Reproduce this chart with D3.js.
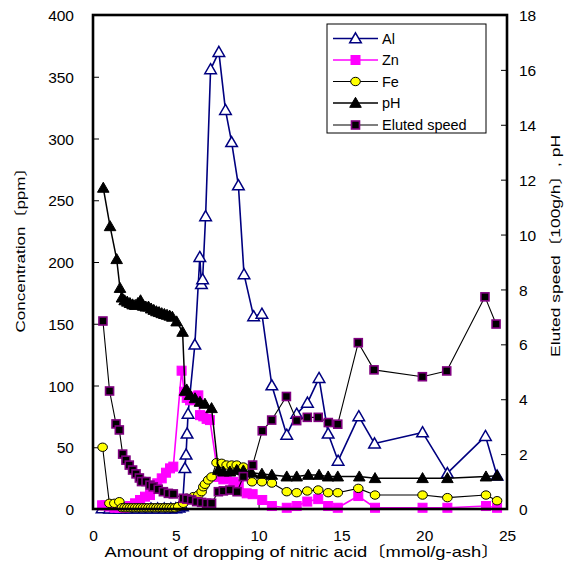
<!DOCTYPE html>
<html>
<head>
<meta charset="utf-8">
<script src="https://cdn.jsdelivr.net/npm/d3@7"></script>
<style>
  html, body { margin: 0; padding: 0; background: #fff; }
  svg { display: block; }
  text { font-family: "Liberation Sans", Arial, "Noto Sans CJK JP", sans-serif; fill: #000; }
</style>
</head>
<body>
<svg id="chart" width="566" height="568"></svg>
<script>
// Amount of nitric acid dropped [mmol/g-ash] and measured values per series
const alX = [0.55, 1.0, 1.35, 1.6, 1.9, 2.3, 2.7, 3.1, 3.5, 3.9, 4.3, 4.7, 5.0, 5.2, 5.4, 5.55, 5.62, 5.68, 5.74, 6.15, 6.45, 6.55, 6.62, 6.8, 7.1, 7.6, 8.0, 8.37, 8.78, 9.12, 9.7, 10.2, 10.8, 11.7, 12.3, 12.95, 13.65, 14.2, 14.8, 16.05, 17.0, 19.9, 21.4, 23.7, 24.4];
const alY = [0.5, 0.3, 0.3, 0.3, 0.3, 0.3, 0.3, 0.3, 0.3, 0.3, 0.3, 0.3, 0.5, 1, 2, 33, 44, 61, 77, 133, 204, 182, 186, 237, 356, 370, 323, 297, 262, 190, 156, 158, 100, 60, 77, 86, 106, 61, 39, 75, 53, 62, 29, 59, 27];

const znX = [0.55, 0.75, 1.0, 1.3, 1.6, 1.9, 2.23, 2.54, 2.84, 3.14, 3.44, 3.64, 3.88, 4.15, 4.41, 4.65, 4.85, 5.35, 5.5, 5.66, 5.86, 6.16, 6.36, 6.46, 6.66, 6.86, 7.06, 7.57, 7.87, 8.07, 8.47, 8.8, 9.28, 9.64, 10.22, 10.8, 11.7, 12.3, 12.94, 13.6, 14.2, 14.78, 16.02, 17.03, 19.9, 21.4, 23.73, 24.4];
const znY = [3, 3, 2, 1, 1, 1, 2.4, 4.6, 7.3, 10, 11.3, 16.7, 20.8, 24.8, 29.4, 32.9, 34.3, 112, 95, 90, 88, 91, 92, 76, 75, 73, 72, 26, 24, 25, 22, 20, 12.7, 12, 7.3, 2.4, 1, 2.4, 6, 8, 2.4, 1, 10.5, 1, 1, 1, 2.4, 1];

const feX = [0.58, 0.99, 1.29, 1.59, 1.75, 1.91, 2.07, 2.23, 2.39, 2.55, 2.71, 2.87, 3.03, 3.19, 3.35, 3.51, 3.67, 3.83, 3.99, 4.15, 4.31, 4.47, 4.63, 4.79, 4.95, 5.15, 5.45, 5.66, 6.06, 6.36, 6.56, 6.66, 6.76, 6.96, 7.16, 7.46, 7.77, 8.07, 8.37, 8.68, 9.08, 9.6, 10.2, 10.8, 11.7, 12.3, 12.94, 13.6, 14.2, 14.78, 16.02, 17.03, 19.9, 21.4, 23.73, 24.4];
const feY = [50, 4.6, 4.6, 5.9, 1, 1, 1, 1, 1, 1, 1, 1, 1, 1, 1, 1, 1, 1, 1, 1, 1, 1, 1, 1, 1, 1.9, 4.6, 8.7, 10, 11.3, 14, 18, 20, 23.5, 26, 37.5, 37, 35.6, 35.6, 35.6, 34, 22, 22, 21, 14, 13.2, 14.6, 15.4, 13.2, 13.2, 16.7, 11.3, 11.3, 9.2, 11.3, 6.7];

const phX = [0.62, 1.03, 1.43, 1.63, 1.75, 1.91, 2.07, 2.23, 2.39, 2.55, 2.71, 2.87, 3.03, 3.19, 3.35, 3.51, 3.67, 3.83, 3.99, 4.15, 4.31, 4.47, 4.63, 4.79, 5.05, 5.41, 5.56, 5.66, 5.86, 6.16, 6.46, 6.76, 7.16, 7.57, 7.87, 8.27, 8.68, 9.08, 9.58, 10.2, 10.8, 11.7, 12.3, 13.0, 13.65, 14.2, 14.78, 16.08, 17.03, 19.9, 21.4, 23.73, 24.4];
const phY = [11.7, 10.3, 9.1, 8.05, 7.7, 7.6, 7.55, 7.5, 7.45, 7.43, 7.5, 7.6, 7.4, 7.37, 7.37, 7.3, 7.25, 7.2, 7.17, 7.13, 7.1, 7.07, 7.04, 7.0, 6.83, 6.45, 4.3, 4.35, 4.15, 4.03, 3.9, 3.83, 3.67, 1.42, 1.36, 1.36, 1.42, 1.4, 1.32, 1.28, 1.24, 1.18, 1.18, 1.24, 1.24, 1.18, 1.18, 1.18, 1.12, 1.12, 1.12, 1.18, 1.21];

const speedX = [0.6, 1.0, 1.39, 1.59, 1.79, 1.99, 2.19, 2.39, 2.6, 2.8, 2.93, 3.2, 3.44, 3.64, 3.94, 4.25, 4.55, 4.85, 5.45, 5.66, 5.96, 6.26, 6.56, 6.86, 7.16, 7.57, 7.87, 8.27, 8.7, 9.08, 9.64, 10.22, 10.79, 11.68, 12.3, 12.94, 13.6, 14.21, 14.78, 16.02, 16.97, 19.89, 21.36, 23.67, 24.34];
const speedY = [6.85, 4.3, 3.1, 2.88, 2.0, 1.78, 1.6, 1.42, 1.28, 1.13, 1.0, 1.0, 0.87, 0.81, 0.72, 0.63, 0.57, 0.55, 0.39, 0.36, 0.33, 0.27, 0.24, 0.21, 0.21, 0.63, 0.66, 0.69, 0.63, 1.18, 1.6, 2.85, 3.24, 4.1, 3.22, 3.34, 3.34, 3.15, 3.09, 6.06, 5.07, 4.82, 5.03, 7.73, 6.74];

const xTicks = [0, 5, 10, 15, 20, 25];
const leftTicks = [0, 50, 100, 150, 200, 250, 300, 350, 400];
const rightTicks = [0, 2, 4, 6, 8, 10, 12, 14, 16, 18];

const xTitle = "Amount of dropping of nitric acid〔mmol/g-ash〕";
const leftTitle = "Concentration〔ppm〕";
const rightTitle = "Eluted speed〔100g/h〕, pH";

const svg = d3.select("#chart");
const plot = { left: 93, right: 507, top: 15, bottom: 509 };

const x = d3.scaleLinear().domain([0, 25]).range([plot.left, plot.right]);
const yL = d3.scaleLinear().domain([0, 400]).range([plot.bottom, plot.top]);
const yR = d3.scaleLinear().domain([0, 18]).range([plot.bottom, plot.top]);

// series definitions: marker styling and axis
const series = [
  { name: "Al", xs: alX, ys: alY, y: yL, line: "#000080", lw: 1.6, marker: "triOpen" },
  { name: "Zn", xs: znX, ys: znY, y: yL, line: "#FF00FF", lw: 1.6, marker: "sqMagenta" },
  { name: "Fe", xs: feX, ys: feY, y: yL, line: "#000000", lw: 1.1, marker: "circle" },
  { name: "pH", xs: phX, ys: phY, y: yR, line: "#000000", lw: 1.5, marker: "triFilled" },
  { name: "Eluted speed", xs: speedX, ys: speedY, y: yR, line: "#000000", lw: 1.1, marker: "sqPurple" }
];

const triPath = d3.symbol().type(d3.symbolTriangle).size(58)();

function drawMarker(g, kind, cx, cy) {
  if (kind === "triOpen") {
    g.append("path").attr("d", triPath).attr("transform", `translate(${cx},${cy + 1})`)
      .attr("fill", "#fff").attr("stroke", "#000080").attr("stroke-width", 1.5);
  } else if (kind === "triFilled") {
    g.append("path").attr("d", triPath).attr("transform", `translate(${cx},${cy + 1})`)
      .attr("fill", "#000").attr("stroke", "#000").attr("stroke-width", 1);
  } else if (kind === "sqMagenta") {
    g.append("rect").attr("x", cx - 4.5).attr("y", cy - 4.5).attr("width", 9).attr("height", 9)
      .attr("fill", "#FF00FF").attr("stroke", "#FF00FF").attr("stroke-width", 1);
  } else if (kind === "sqPurple") {
    g.append("rect").attr("x", cx - 4).attr("y", cy - 4).attr("width", 8).attr("height", 8)
      .attr("fill", "#000").attr("stroke", "#800080").attr("stroke-width", 1.6);
  } else if (kind === "circle") {
    g.append("ellipse").attr("cx", cx).attr("cy", cy).attr("rx", 4.8).attr("ry", 4.2)
      .attr("fill", "#FFFF00").attr("stroke", "#000").attr("stroke-width", 1);
  }
}

// axes with inward ticks
const gLeft = svg.append("g").attr("transform", `translate(${plot.left},0)`)
  .call(d3.axisLeft(yL).tickValues(leftTicks).tickSize(-6).tickPadding(19));
const gRight = svg.append("g").attr("transform", `translate(${plot.right},0)`)
  .call(d3.axisRight(yR).tickValues(rightTicks).tickSize(-6).tickPadding(12));
const gBottom = svg.append("g").attr("transform", `translate(0,${plot.bottom})`)
  .call(d3.axisBottom(x).tickValues(xTicks).tickSize(-5).tickPadding(20));

[gLeft, gRight, gBottom].forEach(g => {
  g.select(".domain").remove();
  g.selectAll(".tick line").attr("stroke", "#000").attr("stroke-width", 1);
  g.selectAll(".tick text").attr("font-size", 15.5).attr("font-family", "'Liberation Sans', Arial, sans-serif")
    .attr("fill", "#000");
});
gLeft.selectAll(".tick text").attr("dy", "0.36em");
gRight.selectAll(".tick text").attr("dy", "0.36em");
gBottom.selectAll(".tick text").attr("dy", "0.75em");

// series lines and markers
const marks = svg.append("g");
series.forEach(s => {
  const pts = s.xs.map((v, i) => [x(v), s.y(s.ys[i])]);
  const g = marks.append("g");
  g.append("path").attr("d", d3.line()(pts)).attr("fill", "none")
    .attr("stroke", s.line).attr("stroke-width", s.lw).attr("stroke-linejoin", "round");
  pts.forEach(p => drawMarker(g, s.marker, p[0], p[1]));
});

// plot frame
svg.append("rect").attr("x", plot.left).attr("y", plot.top)
  .attr("width", plot.right - plot.left).attr("height", plot.bottom - plot.top)
  .attr("fill", "none").attr("stroke", "#000").attr("stroke-width", 2.6);

// legend
const lg = svg.append("g");
lg.append("rect").attr("x", 327).attr("y", 24).attr("width", 159).attr("height", 109)
  .attr("fill", "#fff").attr("stroke", "#000").attr("stroke-width", 1);
const legendY = [38.5, 60, 81.5, 103, 125];
series.forEach((s, i) => {
  const yy = legendY[i];
  lg.append("line").attr("x1", 333).attr("x2", 378).attr("y1", yy).attr("y2", yy)
    .attr("stroke", s.line).attr("stroke-width", s.lw);
  drawMarker(lg, s.marker, 355.5, yy);
  lg.append("text").attr("x", 382).attr("y", yy).attr("dy", "0.36em")
    .attr("font-size", 14.5).text(s.name);
});

// axis titles
svg.append("text").attr("x", 302).attr("y", 557).attr("text-anchor", "middle")
  .attr("font-size", 15).attr("textLength", 395).attr("lengthAdjust", "spacingAndGlyphs").text(xTitle);
svg.append("text").attr("transform", "translate(25,246) rotate(-90)").attr("text-anchor", "middle")
  .attr("font-size", 13.5).attr("textLength", 173).attr("lengthAdjust", "spacingAndGlyphs").text(leftTitle);
svg.append("text").attr("transform", "translate(560,246) rotate(-90)").attr("text-anchor", "middle")
  .attr("font-size", 13.5).attr("textLength", 222).attr("lengthAdjust", "spacingAndGlyphs").text(rightTitle);
</script>
</body>
</html>
